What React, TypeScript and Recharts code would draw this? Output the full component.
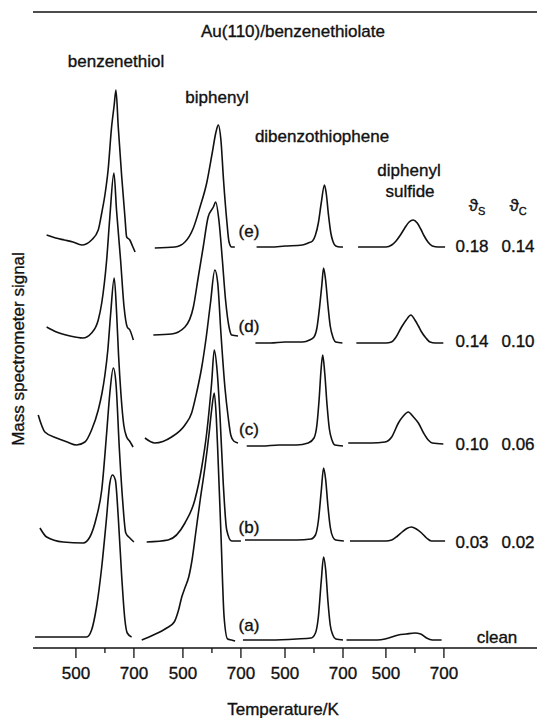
import { Line, LineChart, ReferenceLine, XAxis, YAxis } from "recharts";

// each panel shows ~360-710 K; panels are shifted along one shared axis
const panelShift = [0, 369, 721, 1069];
const tickTemps = [500, 600, 700];
const labelledTemps = [500, 700];

// vertical offset of traces (a)..(e)
const traceOffset = [9, 107, 205, 308, 403];
const traceNames = ["(a)", "(b)", "(c)", "(d)", "(e)"];
const thetaS = ["clean", "0.03", "0.10", "0.14", "0.18"];
const thetaC = ["", "0.02", "0.06", "0.10", "0.14"];

// [temperature K, signal] for every trace
const benzenethiolA = [[359, 2], [450, 2], [537, 2], [554, 9], [571, 32], [589, 72], [604, 116], [617, 156], [626, 164], [636, 159], [646, 122], [658, 62], [669, 19], [677, 6], [692, 2]];
const benzenethiolB = [[376, 13], [399, 4], [456, -1], [525, -2], [548, 4], [571, 24], [589, 51], [606, 108], [617, 148], [629, 173], [638, 158], [650, 91], [661, 41], [672, 8], [686, 3], [700, -1]];
const benzenethiolC = [[370, 28], [393, 11], [433, 5], [470, 1], [502, -2], [531, 1], [554, 13], [577, 33], [590, 50], [600, 68], [610, 93], [620, 130], [632, 165], [640, 132], [647, 88], [655, 50], [665, 18], [675, 6], [685, 2], [697, -4]];
const benzenethiolD = [[399, 13], [433, 8], [480, 4], [524, 2], [554, 7], [577, 20], [589, 37], [606, 80], [617, 123], [631, 167], [640, 130], [654, 80], [666, 33], [677, 13], [686, 10], [698, 0]];
const benzenethiolE = [[399, 10], [430, 7], [460, 5], [490, 3], [520, 0], [554, 5], [577, 15], [589, 32], [600, 50], [611, 75], [623, 118], [632, 140], [638, 155], [646, 118], [658, 68], [669, 28], [675, 8], [686, 5], [695, -1], [704, -7]];

const biphenylA = [[358, -1], [398, 4], [444, 11], [470, 17], [484, 28], [496, 42], [508, 52], [520, 62], [532, 80], [545, 108], [560, 140], [576, 172], [590, 205], [599, 229], [608, 246], [615, 222], [620, 189], [631, 106], [642, 22], [654, 0], [668, -1], [680, -2]];
const biphenylB = [[375, -1], [449, 1], [507, 18], [541, 41], [565, 74], [582, 108], [599, 158], [608, 191], [618, 170], [628, 124], [639, 58], [651, 11], [668, 0], [700, 0]];
const biphenylC = [[369, 5], [403, 0], [461, 6], [507, 18], [530, 30], [547, 50], [565, 76], [580, 105], [595, 140], [610, 173], [620, 160], [631, 110], [645, 55], [656, 26], [665, 8], [675, 2], [690, 0]];
const biphenylD = [[398, 5], [461, 6], [507, 13], [536, 33], [553, 63], [570, 93], [587, 123], [605, 133], [613, 138], [624, 120], [636, 80], [647, 40], [659, 13], [668, 5], [690, 4]];
const biphenylE = [[403, -3], [472, -2], [507, 3], [536, 17], [559, 38], [582, 62], [601, 92], [614, 113], [622, 120], [631, 105], [640, 65], [651, 25], [659, 3], [668, -2], [679, -2]];

const dibenzothiopheneA = [[355, -1], [450, -1], [540, 0], [590, 1], [605, 6], [615, 22], [625, 58], [633, 82], [640, 70], [648, 38], [656, 14], [665, 4], [675, 0], [700, -1]];
const dibenzothiopheneB = [[362, 1], [450, 1], [540, 1], [590, 2], [605, 6], [615, 20], [625, 50], [633, 73], [640, 62], [648, 35], [656, 14], [665, 4], [675, 1], [703, 0]];
const dibenzothiopheneC = [[368, -3], [420, -3], [480, -2], [540, -2], [580, 0], [600, 5], [610, 18], [618, 45], [624, 72], [630, 88], [637, 70], [645, 38], [653, 14], [662, 3], [672, -2], [700, -3]];
const dibenzothiopheneD = [[398, -3], [450, -3], [500, -2], [560, -2], [585, 0], [600, 3], [610, 12], [620, 35], [627, 55], [633, 72], [640, 60], [648, 35], [656, 14], [665, 3], [675, -2], [698, -3]];
const dibenzothiopheneE = [[402, -2], [450, -2], [500, -1], [560, 0], [580, 2], [595, 4], [605, 10], [615, 22], [625, 42], [636, 60], [642, 52], [650, 30], [658, 12], [666, 3], [675, -1], [690, -2], [700, -2]];

const diphenylSulfideA = [[364, -1], [470, -1], [497, 0], [520, 2], [543, 4], [570, 5], [600, 6], [620, 5], [640, 1], [660, -1], [692, -1]];
const diphenylSulfideB = [[376, 0], [500, 0], [520, 1], [540, 5], [556, 9], [572, 12.5], [588, 14], [605, 12], [623, 8], [640, 3], [657, 0], [704, 0]];
const diphenylSulfideC = [[370, 0], [450, 0], [497, 1], [520, 6], [543, 20], [560, 27], [577, 31], [595, 26], [612, 20], [630, 10], [646, 3], [660, 0], [698, -1]];
const diphenylSulfideD = [[398, -3], [500, -3], [519, -2], [535, 3], [554, 13], [570, 20], [586, 25], [600, 20], [612, 14], [623, 8], [638, 2], [652, -2], [670, -3], [698, -3]];
const diphenylSulfideE = [[404, -2], [500, -2], [520, 0], [535, 4], [550, 10], [565, 17], [580, 23], [594, 25], [608, 22], [620, 16], [632, 9], [645, 3], [660, -1], [680, -2], [704, -2]];

const panels = [
  [benzenethiolA, benzenethiolB, benzenethiolC, benzenethiolD, benzenethiolE],
  [biphenylA, biphenylB, biphenylC, biphenylD, biphenylE],
  [dibenzothiopheneA, dibenzothiopheneB, dibenzothiopheneC, dibenzothiopheneD, dibenzothiopheneE],
  [diphenylSulfideA, diphenylSulfideB, diphenylSulfideC, diphenylSulfideD, diphenylSulfideE],
];

const series = panels.flatMap((traces, p) =>
  traces.map((pts, i) => ({
    id: `p${p}t${i}`,
    data: pts.map(([t, s]) => ({ x: panelShift[p] + t, y: traceOffset[i] + s })),
  }))
);

const tickInfo = panelShift.flatMap((s) =>
  tickTemps.map((t) => ({ value: s + t, temp: t }))
);
const tickValues = tickInfo.map((d) => d.value);

const FONT = "'Liberation Sans', Arial, Helvetica, sans-serif";
const INK = "#111";

const TempTick = (props: any) => {
  const { x, y, payload } = props;
  const info = tickInfo.find((d) => d.value === payload.value);
  const temp = info ? info.temp : 0;
  const major = labelledTemps.includes(temp);
  return (
    <g>
      <line x1={x} x2={x} y1={y} y2={y + (major ? 10 : 5)} stroke={INK} strokeWidth={1.3} />
      {major && (
        <text
          x={x}
          y={y + 31}
          textAnchor="middle"
          fontSize={17}
          fontFamily={FONT}
          fill={INK}
          stroke={INK}
          strokeWidth={0.35}
        >
          {temp}
        </text>
      )}
    </g>
  );
};

const Txt = ({ x, y, children, rotate }: { x: number; y: number; children: any; rotate?: boolean }) => (
  <div
    style={{
      position: "absolute",
      left: x,
      top: y,
      transform: `translate(-50%, -50%)${rotate ? " rotate(-90deg)" : ""}`,
      whiteSpace: "nowrap",
      fontFamily: FONT,
      fontSize: 17,
      color: INK,
      lineHeight: 1,
      WebkitTextStroke: "0.35px #111",
    }}
  >
    {children}
  </div>
);

const baselineY = (i: number) => 648 - traceOffset[i];

const App = () => {
  return (
    <div style={{ position: "absolute", left: 0, top: 0, width: 537, height: 718, background: "#fff" }}>
      <LineChart width={537} height={718} margin={{ top: 12, right: 0, left: 33, bottom: 40 }}>
        <XAxis
          type="number"
          dataKey="x"
          domain={[352, 2090]}
          ticks={tickValues}
          interval={0}
          allowDataOverflow
          height={30}
          tickLine={false}
          tickSize={0}
          tickMargin={0}
          tick={<TempTick />}
          axisLine={{ stroke: INK, strokeWidth: 1.4 }}
        />
        <YAxis
          type="number"
          domain={[0, 636]}
          width={0}
          tick={false}
          tickLine={false}
          axisLine={{ stroke: INK, strokeWidth: 1.4 }}
        />
        <ReferenceLine y={636} stroke={INK} strokeWidth={1.4} />
        {series.map((s) => (
          <Line
            key={s.id}
            data={s.data}
            dataKey="y"
            type="monotone"
            stroke={INK}
            strokeWidth={1.6}
            dot={false}
            isAnimationActive={false}
          />
        ))}
      </LineChart>

      <Txt x={293} y={31}>Au(110)/benzenethiolate</Txt>
      <Txt x={116} y={61}>benzenethiol</Txt>
      <Txt x={217} y={97}>biphenyl</Txt>
      <Txt x={322} y={136}>dibenzothiophene</Txt>
      <Txt x={409} y={170}>diphenyl</Txt>
      <Txt x={410} y={191}>sulfide</Txt>
      <Txt x={477} y={207}>
        ϑ<sub style={{ fontSize: 11 }}>S</sub>
      </Txt>
      <Txt x={518} y={207}>
        ϑ<sub style={{ fontSize: 11 }}>C</sub>
      </Txt>

      {traceNames.map((n, i) => (
        <Txt key={n} x={249} y={baselineY(i) - 14}>{n}</Txt>
      ))}
      {thetaS.map((v, i) =>
        i === 0 ? (
          <Txt key={v} x={497} y={baselineY(i) - 2}>{v}</Txt>
        ) : (
          <div key={v + i}>
            <Txt x={472} y={baselineY(i) + 1}>{v}</Txt>
            <Txt x={518} y={baselineY(i) + 1}>{thetaC[i]}</Txt>
          </div>
        )
      )}

      <Txt x={18} y={349} rotate>Mass spectrometer signal</Txt>
      <Txt x={283} y={709}>Temperature/K</Txt>
    </div>
  );
};

export default App;
